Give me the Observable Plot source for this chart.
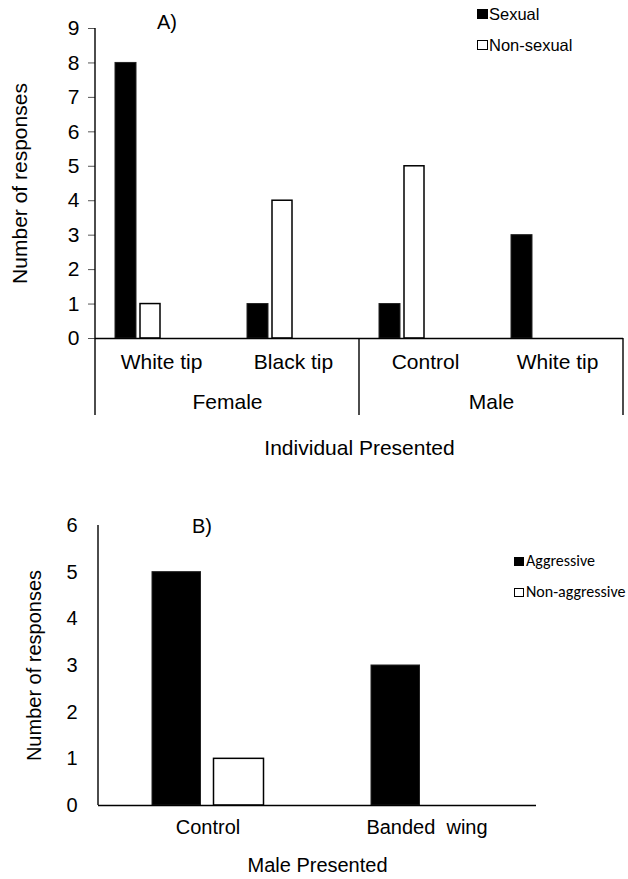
<!DOCTYPE html>
<html>
<head>
<meta charset="utf-8">
<script src="https://cdn.jsdelivr.net/npm/d3@7"></script>
<script src="https://cdn.jsdelivr.net/npm/@observablehq/plot@0.6"></script>
<style>
  body { margin: 0; background: #fff; }
  #page { position: relative; width: 628px; height: 879px; font-family: "Liberation Sans", Arial, sans-serif; color: #000; }
  .panel { position: absolute; left: 0; }
  .tag { position: absolute; font-size: 20px; line-height: 20px; }
  .key { position: absolute; white-space: nowrap; }
  .sw { position: absolute; box-sizing: border-box; }
</style>
</head>
<body>
<div id="page"></div>
<script>
// Panel A: responses to the presented individual
const groupsA = ["Female", "Female", "Male", "Male"];
const categoriesA = ["White tip", "Black tip", "Control", "White tip"];
const sexual = [8, 1, 1, 3];
const nonSexual = [1, 4, 5, 0];
const seriesA = ["Sexual", "Non-sexual"];
const ticksA = [0, 1, 2, 3, 4, 5, 6, 7, 8, 9];

// Panel B: responses to the presented male
const categoriesB = ["Control", "Banded  wing"];
const aggressive = [5, 3];
const nonAggressive = [1, 0];
const seriesB = ["Aggressive", "Non-aggressive"];
const ticksB = [0, 1, 2, 3, 4, 5, 6];

const FONT = "'Liberation Sans', Arial, sans-serif";
const page = document.getElementById("page");

const rowsA = categoriesA.map((c, i) => ({
  group: groupsA[i],
  slot: i - groupsA.indexOf(groupsA[i]),
  category: c,
  sexual: sexual[i],
  nonSexual: nonSexual[i]
}));

const plotA = Plot.plot({
  width: 628,
  height: 470,
  marginLeft: 94,
  marginRight: 5,
  marginTop: 28,
  marginBottom: 132,
  style: { fontFamily: FONT, fontSize: "20px", color: "#000", background: "transparent", overflow: "visible" },
  fx: { domain: ["Female", "Male"], padding: 0 },
  x: { domain: [0, 1], padding: 0, axis: null },
  y: { domain: [0, 9] },
  marks: [
    Plot.axisY({ ticks: ticksA, tickFormat: d3.format("d"), tickSize: 7, tickPadding: 9, fontSize: 21, stroke: "#555",
      label: "Number of responses", labelAnchor: "center", labelOffset: 83, labelArrow: "none" }),
    Plot.axisFx({ anchor: "bottom", tickSize: 0, tickPadding: 56, fontSize: 21,
      label: "Individual Presented", labelAnchor: "center", labelOffset: 116, labelArrow: "none" }),
    Plot.barY(rowsA, { fx: "group", x: "slot", y: "sexual", fill: "#000", stroke: "#222", strokeWidth: 1, insetLeft: 20, insetRight: 91 }),
    Plot.barY(rowsA.filter(d => d.nonSexual > 0), { fx: "group", x: "slot", y: "nonSexual", fill: "#fff", stroke: "#000", strokeWidth: 1.5, insetLeft: 45, insetRight: 67 }),
    Plot.ruleY([0], { stroke: "#000", strokeWidth: 1.4 }),
    Plot.text(rowsA, { fx: "group", x: "slot", text: "category", frameAnchor: "bottom", dy: 30, fontSize: 21 })
  ]
});

// Category dividers of the two-level axis, from the plot's own scales
{
  const fx = plotA.scale("fx"), y = plotA.scale("y");
  const g = d3.select(plotA).append("g").attr("stroke", "#000").attr("stroke-width", 1.4);
  const y0 = y.apply(0), yTop = y.apply(9), yEnd = y0 + 77;
  const edges = fx.domain.map(d => fx.apply(d)).concat(fx.apply(fx.domain[fx.domain.length - 1]) + fx.bandwidth);
  edges.forEach((x, i) => {
    g.append("line").attr("x1", x).attr("x2", x).attr("y1", i === 0 ? yTop : y0).attr("y2", yEnd);
  });
}

const rowsB = categoriesB.map((c, i) => ({ category: c, aggressive: aggressive[i], nonAggressive: nonAggressive[i] }));

const plotB = Plot.plot({
  width: 628,
  height: 409,
  marginLeft: 98,
  marginRight: 92,
  marginTop: 55,
  marginBottom: 74,
  style: { fontFamily: FONT, fontSize: "20px", color: "#000", background: "transparent", overflow: "visible" },
  x: { domain: categoriesB, padding: 0 },
  y: { domain: [0, 6] },
  marks: [
    Plot.axisY({ ticks: ticksB, tickFormat: d3.format("d"), tickSize: 0, tickPadding: 21, fontSize: 20,
      label: "Number of responses", labelAnchor: "center", labelOffset: 72, labelArrow: "none" }),
    Plot.axisX({ tickSize: 0, tickPadding: 14, fontSize: 20,
      label: "Male Presented", labelAnchor: "center", labelOffset: 66, labelArrow: "none" }),
    Plot.barY(rowsB, { x: "category", y: "aggressive", fill: "#000", stroke: "#222", strokeWidth: 1, insetLeft: 54, insetRight: 116.5 }),
    Plot.barY(rowsB.filter(d => d.nonAggressive > 0), { x: "category", y: "nonAggressive", fill: "#fff", stroke: "#000", strokeWidth: 1.5, insetLeft: 115.5, insetRight: 53.5 }),
    Plot.ruleY([0], { stroke: "#000", strokeWidth: 1.4 })
  ]
});

// Vertical value axis line for panel B
{
  const x = plotB.scale("x"), y = plotB.scale("y");
  d3.select(plotB).append("line")
    .attr("x1", x.range[0]).attr("x2", x.range[0])
    .attr("y1", y.apply(6)).attr("y2", y.apply(0))
    .attr("stroke", "#000").attr("stroke-width", 1.4);
}

function place(el, top) {
  const wrap = document.createElement("div");
  wrap.className = "panel";
  wrap.style.top = top + "px";
  wrap.appendChild(el);
  page.appendChild(wrap);
}
place(plotA, 0);
place(plotB, 470);

function tag(text, left, top) {
  const d = document.createElement("div");
  d.className = "tag";
  d.textContent = text;
  d.style.left = left + "px";
  d.style.top = top + "px";
  page.appendChild(d);
}
tag("A)", 157, 12);
tag("B)", 192, 516);

// Legends
function key(items, opts) {
  items.forEach((name, i) => {
    const top = opts.top + i * opts.step;
    const sw = document.createElement("div");
    sw.className = "sw";
    sw.style.left = opts.left + "px";
    sw.style.top = (top + opts.swTop) + "px";
    sw.style.width = opts.sw + "px";
    sw.style.height = opts.swH + "px";
    sw.style.background = i === 0 ? "#000" : "#fff";
    sw.style.border = i === 0 ? "none" : "1.4px solid #000";
    page.appendChild(sw);
    const t = document.createElement("div");
    t.className = "key";
    t.textContent = name;
    t.style.left = (opts.left + opts.textDx) + "px";
    t.style.top = top + "px";
    t.style.fontFamily = opts.font;
    t.style.fontSize = opts.size + "px";
    t.style.lineHeight = opts.size + "px";
    page.appendChild(t);
  });
}
key(seriesA, { left: 477, top: 6, step: 31, swTop: 3, sw: 11, swH: 10, textDx: 12, font: FONT, size: 16.5 });
key(seriesB, { left: 514, top: 553, step: 31, swTop: 4, sw: 10, swH: 9, textDx: 12, font: "Carlito, Lato, sans-serif", size: 16 });
</script>
</body>
</html>
